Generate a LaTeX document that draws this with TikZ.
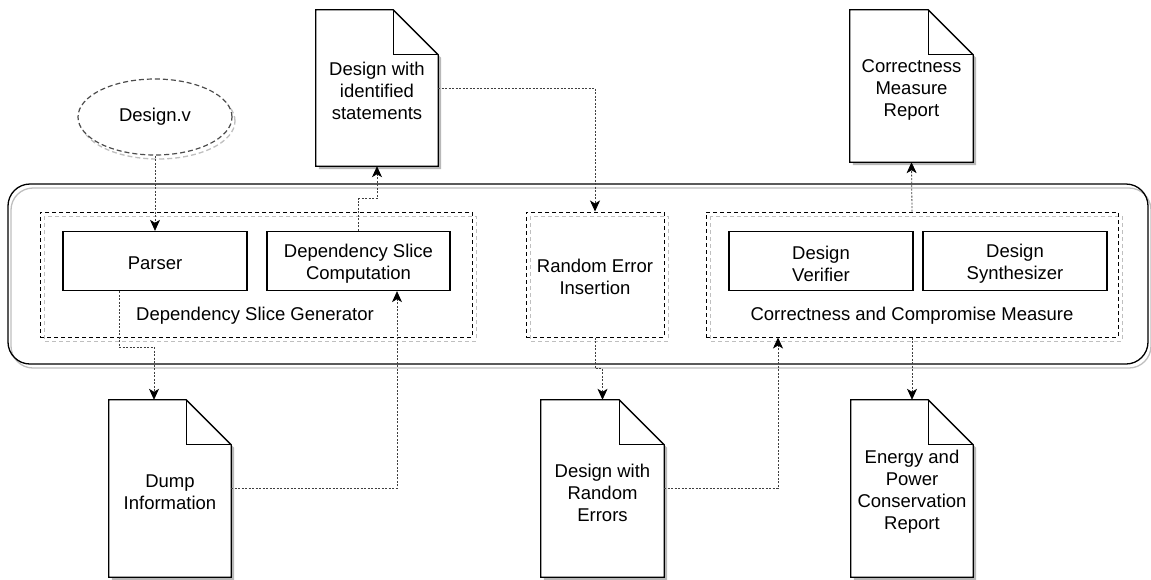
\documentclass[tikz,border=0pt]{standalone}
\usepackage{fontspec}
\setmainfont{Liberation Sans}
\usetikzlibrary{shapes.geometric,arrows.meta,backgrounds,calc}
\newcommand\docshape[1]{%
\begin{pgfonlayer}{background}
\fill[black!28] ([shift={(3pt,-3pt)}]#1.south west) -- ([shift={(3pt,-3pt)}]#1.north west) -- ([shift={(-42pt,-3pt)}]#1.north east) -- ([shift={(3pt,-48pt)}]#1.north east) -- ([shift={(3pt,-3pt)}]#1.south east) -- cycle;
\filldraw[fill=white, draw=black, line width=1.3pt, line join=miter] (#1.south west) -- (#1.north west) -- ([xshift=-45pt]#1.north east) -- ([yshift=-45pt]#1.north east) -- (#1.south east) -- cycle;
\draw[line width=1.3pt] ([xshift=-45pt]#1.north east) -- ([shift={(-45pt,-45pt)}]#1.north east) -- ([yshift=-45pt]#1.north east);
\end{pgfonlayer}}
\begin{document}
\begin{tikzpicture}[x=1pt,y=-1pt,
  font=\fontsize{18.5}{22}\selectfont,
  box/.style={draw=black, line width=1.3pt, rectangle, minimum width=184pt, minimum height=59pt, inner sep=0pt},
  grp/.style={draw=black, dash pattern=on 4pt off 3pt, line width=1pt, rectangle, inner sep=0pt},
  grpshadow/.style={draw=black!25, dash pattern=on 4pt off 3pt, line width=1pt},
  doc/.style={rectangle, minimum width=122pt, inner sep=0pt},
  conn/.style={draw=black!75, line width=0.8pt, dash pattern=on 2pt off 1.5pt, -{Stealth[length=11pt,width=10pt,inset=3pt,color=black,fill=black]}},
  lab/.style={inner sep=0pt, align=center}
]
\useasboundingbox (0,0) rectangle (1151,579);

% outer container
\draw[black!25, line width=1.3pt, rounded corners=22pt] (11,188) rectangle (1151,368);
\draw[black, line width=1.3pt, fill=none, rounded corners=22pt] (8,184) rectangle (1148,364);

% group shadows
\draw[grpshadow] (44,216) rectangle (476,341);
\draw[grpshadow] (530,216) rectangle (668,341);
\draw[grpshadow] (710,216) rectangle (1122,341);

% groups
\node[grp, minimum width=432pt, minimum height=125pt] (g1) at (256,274.5) {};
\node[grp, minimum width=138pt, minimum height=125pt] (reg) at (595,274.5) {};
\node[grp, minimum width=412pt, minimum height=125pt] (ccm) at (912,274.5) {};
\node[lab] (reglab) at (595,277) {Random Error\\Insertion};
\node[lab] (g1lab) at (255,316) {Dependency Slice Generator};
\node[lab] (ccmlab) at (912,316) {Correctness and Compromise Measure};

% inner boxes
\node[box] (parser) at (155,261) {};
\node[box, minimum width=183pt] (dsc) at (358.5,261) {};
\node[box] (dver) at (821,261) {};
\node[box] (dsyn) at (1015,261) {};
\node[lab] (parserlab) at (155,263.5) {Parser};
\node[lab] (dsclab) at (358.5,263.5) {Dependency Slice\\Computation};
\node[lab] (dverlab) at (821,263.5) {Design\\Verifier};
\node[lab] (dsynlab) at (1015,263.5) {Design\\Synthesizer};

% ellipse
\draw[black!25, line width=1.3pt, dash pattern=on 5pt off 3pt] (158,121) ellipse [x radius=77pt, y radius=38pt];
\node[ellipse, draw=black!70, fill=white, line width=1.2pt, dash pattern=on 5pt off 3pt, minimum width=154pt, minimum height=76pt, inner sep=0pt] (dv) at (155,117) {Design.v};

% documents
\node[doc, minimum height=156pt] (ident) at (377,88) {};
\docshape{ident}
\node[lab] (identlab) at (377,91) {Design with\\identified\\statements};
\node[doc, minimum width=123pt, minimum height=152pt] (cmr) at (911.5,86) {};
\docshape{cmr}
\node[lab] (cmrlab) at (911.5,90) {Correctness\\Measure\\Report};
\node[doc, minimum height=177pt] (dump) at (170,488.5) {};
\docshape{dump}
\node[lab] (dumplab) at (170,492.5) {Dump\\Information};
\node[doc, minimum width=123pt, minimum height=177pt] (dre) at (602.5,488.5) {};
\docshape{dre}
\node[lab] (drelab) at (602.5,492.5) {Design with\\Random\\Errors};
\node[doc, minimum height=177pt] (energy) at (912,488.5) {};
\docshape{energy}
\node[lab] (energylab) at (912,491.5) {Energy and\\Power\\Conservation\\Report};

% connectors
\draw[conn] (dv.south) -- (parser.north);
\draw[conn] (dsc.north) -- ++(0,-32) -| (ident.south);
\draw[conn] (ident.east) -| (reg.north);
\draw[conn] ([xshift=-36pt]parser.south) -- ++(0,56) -| ([xshift=-16pt]dump.north);
\draw[conn] (dump.east) -| ([xshift=38.5pt]dsc.south);
\draw[conn] (reg.south) -- ++(0,31) -| (dre.north);
\draw[conn] (dre.east) -| ([xshift=-134pt]ccm.south);
\draw[conn] (ccm.north) -- (cmr.south);
\draw[conn] (ccm.south) -- (energy.north);
\end{tikzpicture}
\end{document}
